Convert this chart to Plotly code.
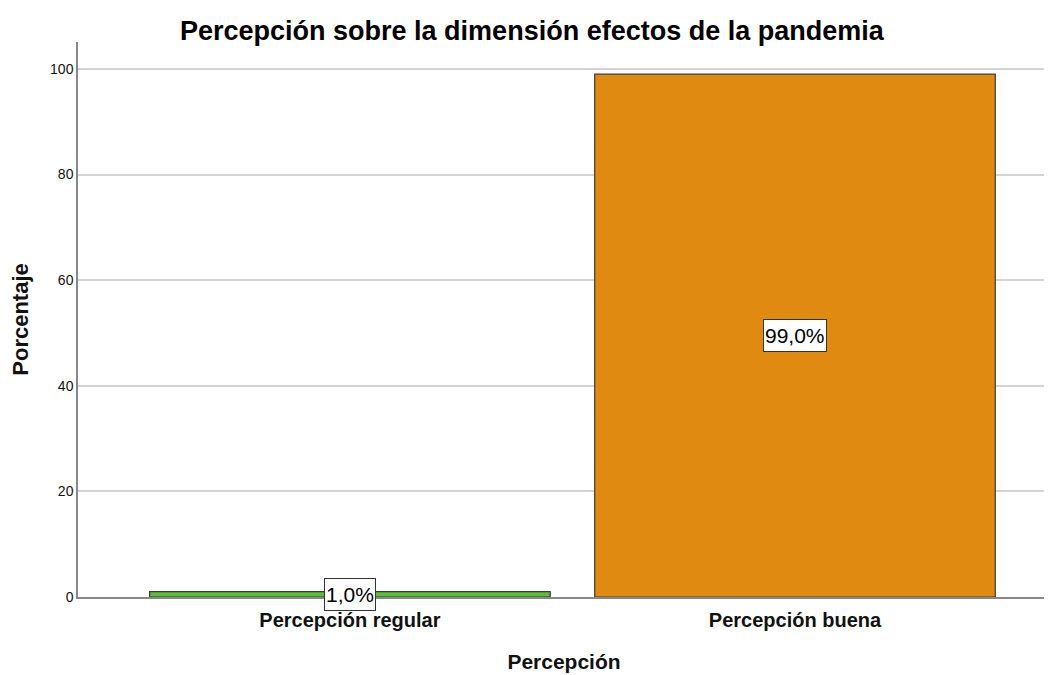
import plotly.graph_objects as go

categories = ["Percepción regular", "Percepción buena"]
values = [1.0, 99.0]
labels = ["1,0%", "99,0%"]
colors = ["#5CBF3A", "#E08A12"]

xpos = list(range(len(categories)))

fig = go.Figure()
fig.add_trace(go.Bar(
    x=xpos, y=values, width=0.9,
    marker=dict(color=colors, line=dict(color="#3a3a3a", width=1.2)),
    hoverinfo="skip", showlegend=False,
))

for xp, v, lab in zip(xpos, values, labels):
    fig.add_annotation(
        x=xp, y=v / 2, text=lab, showarrow=False,
        font=dict(family="Arial, Liberation Sans", size=21, color="#000"),
        bgcolor="white", bordercolor="#333", borderwidth=1, borderpad=1,
        height=29,
    )

fig.update_layout(
    width=1052, height=675,
    paper_bgcolor="white", plot_bgcolor="white",
    margin=dict(l=70, r=10, t=34, b=86),
    title=dict(text="<b>Percepción sobre la dimensión efectos de la pandemia</b>",
               x=0.498, xanchor="center", y=0.967, yanchor="middle",
               font=dict(family="Arial, Liberation Sans", size=27, color="#000")),
    font=dict(family="Arial, Liberation Sans", color="#000"),
)
fig.update_xaxes(
    tickvals=xpos, ticktext=["<b>%s</b>" % c for c in categories], range=[-0.611, 1.573],
    showline=True, linecolor="#888", linewidth=1.5,
    tickfont=dict(size=20, color="#111"), ticks="", automargin=False,
    ticklabelstandoff=4,
    title=dict(text="<b>Percepción</b>", font=dict(size=21, color="#111"), standoff=25),
    showgrid=False, zeroline=False,
)
fig.update_yaxes(
    range=[0, 105.1], tickvals=[0, 20, 40, 60, 80, 100],
    showline=True, linecolor="#888", linewidth=1.5,
    gridcolor="#d4d4d4", gridwidth=1.5, automargin=False,
    tickfont=dict(size=14, color="#111"), ticks="",
    title=dict(text="<b>Porcentaje</b>", font=dict(size=22, color="#111"), standoff=22),
    zeroline=False,
)

fig.write_html("out.html")
